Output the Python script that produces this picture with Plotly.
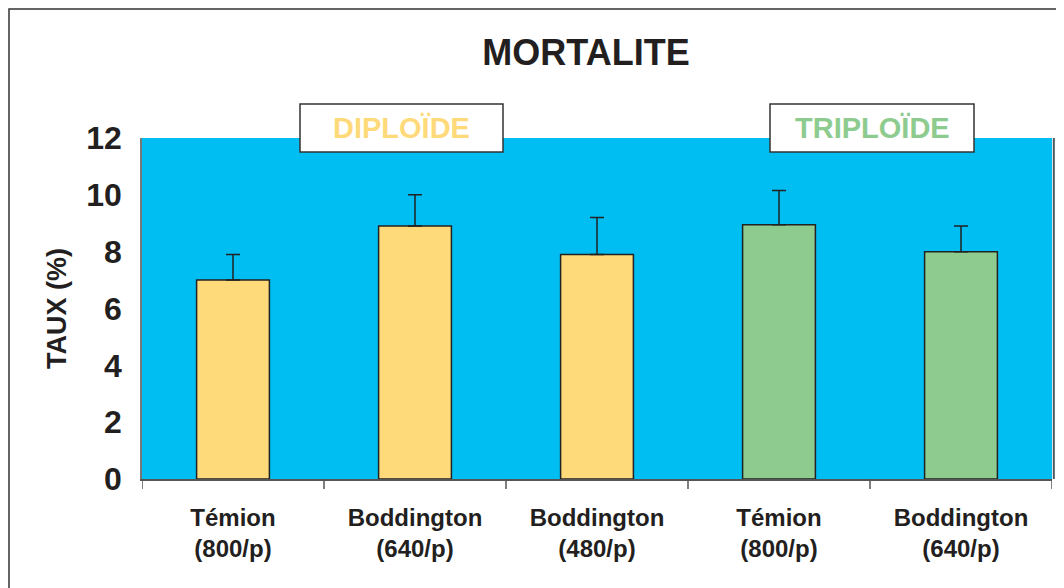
import plotly.graph_objects as go

categories = ["Témion<br>(800/p)", "Boddington<br>(640/p)", "Boddington<br>(480/p)", "Témion<br>(800/p)", "Boddington<br>(640/p)"]
values = [7.0, 8.9, 7.9, 8.95, 8.0]
errors = [0.9, 1.1, 1.3, 1.2, 0.9]
groups = ["DIPLOÏDE", "DIPLOÏDE", "DIPLOÏDE", "TRIPLOÏDE", "TRIPLOÏDE"]
yticks = [0, 2, 4, 6, 8, 10, 12]

group_colors = {"DIPLOÏDE": "#FEDA7A", "TRIPLOÏDE": "#8ECB8F"}
bar_colors = [group_colors[g] for g in groups]

OFF = 8  # page body margin
W, H = 1064 - OFF, 588 - OFF
L, R, T, B = 142 - OFF, 12, 138 - OFF, 109
pw, ph = W - L - R, H - T - B

def px(x):
    return (x - OFF - L) / pw

def py(y):
    return 1 - (y - OFF - T) / ph

fig = go.Figure()
fig.add_trace(go.Bar(
    x=list(range(len(categories))),
    y=values,
    marker=dict(color=bar_colors, line=dict(color="#222222", width=1.5)),
    width=0.4,
    error_y=dict(type="data", array=errors, arrayminus=[0]*len(errors), symmetric=False,
                 color="#222222", thickness=1.5, width=7),
    showlegend=False,
))

font_family = "Liberation Sans, Arial, sans-serif"

fig.update_layout(
    width=W, height=H,
    margin=dict(l=L, r=R, t=T, b=B),
    paper_bgcolor="white",
    plot_bgcolor="#00BDF2",
    font=dict(family=font_family, color="#231F20"),
    title=dict(text="<b>MORTALITE</b>", x=(586 - OFF) / W, xanchor="center", y=1 - (52 - OFF) / H, yanchor="middle",
               font=dict(size=36, family=font_family, color="#231F20")),
    xaxis=dict(
        tickmode="array",
        tickvals=list(range(len(categories))),
        ticktext=["<b>" + c.replace("<br>", "</b><br><b>") + "</b>" for c in categories],
        range=[-0.5, len(categories) - 0.5],
        showline=True, linecolor="#555555", linewidth=1.5,
        ticks="", showgrid=False,
        tickfont=dict(size=24, family=font_family, color="#231F20"),
        ticklabelstandoff=16,
    ),
    yaxis=dict(
        range=[0, 12],
        tickvals=yticks,
        ticktext=["<b>%d</b>" % v for v in yticks],
        showline=True, linecolor="#777777", linewidth=1.5,
        showgrid=False, zeroline=False, ticks="",
        tickfont=dict(size=32, family=font_family, color="#231F20"),
        ticklabelstandoff=12,
        title=dict(text="<b>TAUX (%)</b>", font=dict(size=27, family=font_family, color="#231F20"), standoff=12),
    ),
)

shapes = []
for i in range(len(categories) + 1):
    xv = i - 0.5
    shapes.append(dict(type="line", xref="x", yref="paper", x0=xv, x1=xv, y0=0, y1=-10 / ph,
                       line=dict(color="#555555", width=1.5)))

shapes.append(dict(type="line", xref="paper", yref="paper", x0=1.002, x1=1.002, y0=0, y1=1,
                   line=dict(color="#4A5A60", width=2)))

shapes.append(dict(type="rect", xref="paper", yref="paper",
                   x0=px(9), x1=px(1100), y0=py(9), y1=py(640),
                   line=dict(color="#333333", width=1.5), fillcolor="rgba(0,0,0,0)"))

boxes = [("DIPLOÏDE", 300, 503), ("TRIPLOÏDE", 770, 974)]
annotations = []
for name, x0, x1 in boxes:
    shapes.append(dict(type="rect", xref="paper", yref="paper",
                       x0=px(x0), x1=px(x1), y0=py(152), y1=py(104),
                       line=dict(color="#333333", width=1.5), fillcolor="white"))
    annotations.append(dict(xref="paper", yref="paper", x=px((x0 + x1) / 2), y=py(128),
                            text="<b>%s</b>" % name, showarrow=False, xanchor="center", yanchor="middle",
                            font=dict(size=29, family=font_family, color=group_colors[name])))

fig.update_layout(shapes=shapes, annotations=annotations)

fig.write_html("out.html")
